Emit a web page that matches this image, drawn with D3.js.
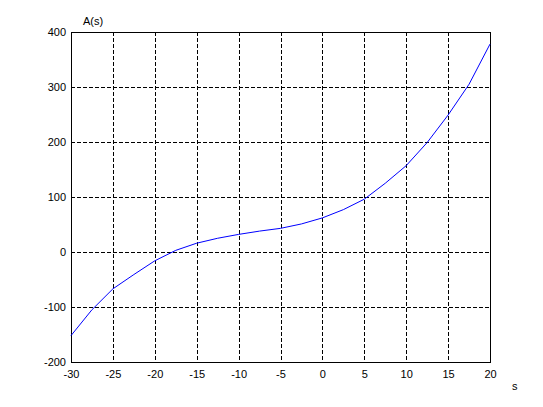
<html>
<head><meta charset="utf-8"></head>
<body style="margin:0;background:#fff">
<div id="chart"></div>
<script src="https://d3js.org/d3.v7.min.js"></script>
<script>

// values
var sVals = [-30, -27.5, -25, -22.5, -20, -17.5, -15, -12.5, -10, -7.5, -5, -2.5, 0, 2.5, 5, 7.5, 10, 12.5, 15, 17.5, 20]
var aVals = [-152, -105, -67, -41, -16, 3, 16, 25, 32, 38, 43, 51, 62, 77, 96, 125, 157, 199, 249, 305, 378]
var xTicks = [-30, -25, -20, -15, -10, -5, 0, 5, 10, 15, 20]
var yTicks = [-200, -100, 0, 100, 200, 300, 400]

var data = sVals.map((s, i) => ({s: s, a: aVals[i]}))

var W = 543, H = 407
var margin = {top: 32, right: 53, bottom: 45, left: 71}
var width = W - margin.left - margin.right,
    height = H - margin.top - margin.bottom

var svg = d3.select("#chart")
  .append("svg")
  .attr("width", W)
  .attr("height", H)
  .style("font-family", "Liberation Sans, Arial, sans-serif")
  .append("g")
  .attr("transform", "translate(" + margin.left + "," + margin.top + ")")

var x = d3.scaleLinear().domain([-30, 20]).range([0, width])
var y = d3.scaleLinear().domain([-200, 400]).range([height, 0])

// grid
svg.selectAll(".vgrid")
  .data(xTicks.slice(1, -1))
  .enter().append("line")
  .attr("x1", d => Math.round(x(d)) + 0.5)
  .attr("x2", d => Math.round(x(d)) + 0.5)
  .attr("y1", 0).attr("y2", height)
  .attr("stroke", "#000")
  .attr("stroke-dasharray", "4,2")

svg.selectAll(".hgrid")
  .data(yTicks.slice(1, -1))
  .enter().append("line")
  .attr("y1", d => Math.round(y(d)) + 0.5)
  .attr("y2", d => Math.round(y(d)) + 0.5)
  .attr("x1", 0).attr("x2", width)
  .attr("stroke", "#000")
  .attr("stroke-dasharray", "4,2")

// axes, plain hyphen minus like the original
var fmt = d => String(d)
var xAxis = d3.axisBottom(x).tickValues(xTicks).tickFormat(fmt).tickSize(0).tickPadding(8)
var yAxis = d3.axisLeft(y).tickValues(yTicks).tickFormat(fmt).tickSize(0).tickPadding(5)

svg.append("g")
  .attr("transform", "translate(0," + height + ")")
  .call(xAxis)
svg.append("g").call(yAxis)

svg.selectAll(".domain").remove()
svg.selectAll(".tick text")
  .style("font-size", "11px")
  .style("font-family", "Liberation Sans, Arial, sans-serif")
  .attr("fill", "#000")

// box
svg.append("rect")
  .attr("x", 0.5).attr("y", 0.5)
  .attr("width", width).attr("height", height)
  .attr("fill", "none")
  .attr("stroke", "#000")

// curve
var line = d3.line().x(d => x(d.s)).y(d => y(d.a))
svg.append("path")
  .datum(data)
  .attr("d", line)
  .attr("fill", "none")
  .attr("stroke", "#0000ff")
  .attr("stroke-width", 1)

// labels
svg.append("text")
  .attr("x", 12).attr("y", -7)
  .style("font-size", "11px")
  .text("A(s)")

svg.append("text")
  .attr("x", width + 22).attr("y", height + 28)
  .style("font-size", "11px")
  .text("s")

</script>
</body>
</html>
